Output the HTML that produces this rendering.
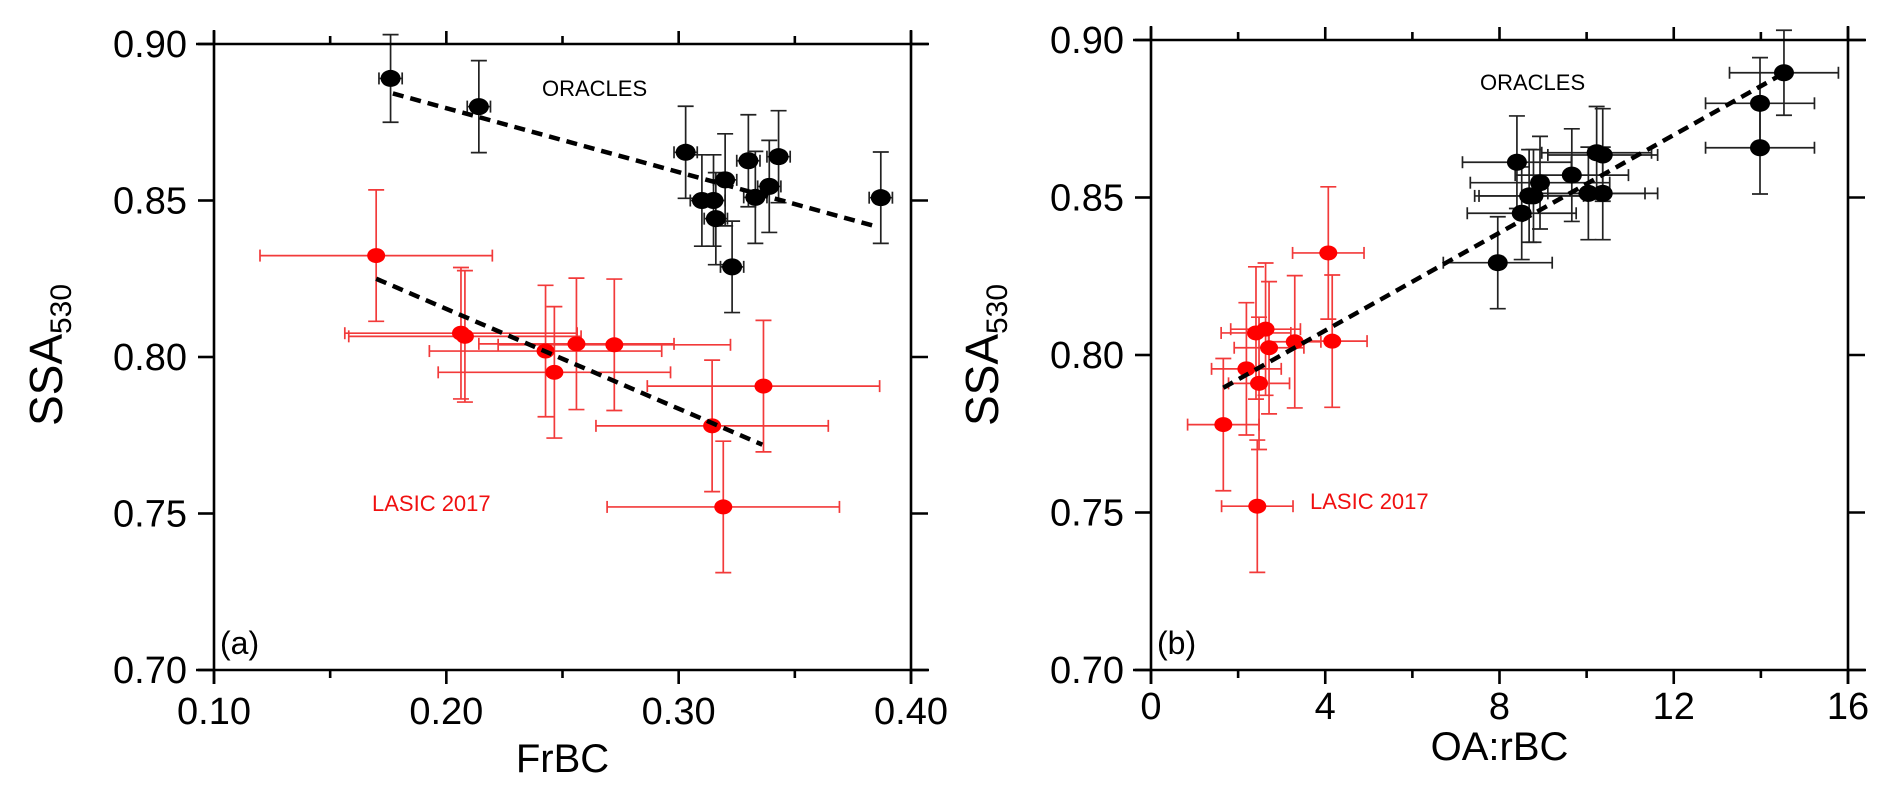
<!DOCTYPE html>
<html><head><meta charset="utf-8"><style>
html,body{margin:0;padding:0;background:#fff;}
svg{display:block;font-family:"Liberation Sans",Arial,sans-serif;}
</style></head><body>
<svg id="fig" width="1892" height="799" viewBox="0 0 1892 799">
<g id="pa"></g>
<g id="pb"></g>
</svg>
<script>
// Panel (a) data: FrBC vs SSA530
const aBlackX = [0.176,0.214,0.303,0.310,0.315,0.316,0.320,0.323,0.330,0.333,0.339,0.343,0.387];
const aBlackY = [0.889,0.880,0.8654,0.850,0.850,0.8442,0.8566,0.8288,0.8627,0.851,0.8545,0.864,0.8509];
const aBlackXerr = [0.005,0.005,0.005,0.005,0.005,0.005,0.005,0.005,0.005,0.005,0.005,0.005,0.005];
const aBlackYerr = [0.014,0.0147,0.0147,0.0146,0.0146,0.0147,0.0147,0.0146,0.0147,0.0147,0.0147,0.0147,0.0146];
const aRedX = [0.1698,0.2063,0.208,0.2427,0.2465,0.256,0.2723,0.3144,0.3365,0.3192];
const aRedY = [0.8324,0.8076,0.8066,0.8019,0.7951,0.8042,0.8039,0.778,0.7907,0.7521];
const aRedXerr = [0.05,0.05,0.05,0.05,0.05,0.042,0.05,0.05,0.05,0.05];
const aRedYerr = [0.021,0.021,0.021,0.021,0.021,0.021,0.021,0.021,0.021,0.021];
const aFitBlack = [[0.177,0.8842],[0.386,0.8415]];
const aFitRed = [[0.1698,0.825],[0.336,0.772]];
const aXTicks = [0.10,0.20,0.30,0.40];
const aXTickLabels = ["0.10","0.20","0.30","0.40"];
const aXMinor = [0.15,0.25,0.35];
const yTicks = [0.70,0.75,0.80,0.85,0.90];
const yTickLabels = ["0.70","0.75","0.80","0.85","0.90"];

// Panel (b) data: OA:rBC vs SSA530
const bBlackX = [14.53,13.98,13.98,7.96,8.40,8.51,8.68,8.78,8.93,9.66,10.04,10.23,10.37,10.37];
const bBlackY = [0.8896,0.8799,0.8658,0.8293,0.8612,0.845,0.8505,0.8505,0.8547,0.8571,0.8513,0.8642,0.8635,0.8513];
const bBlackXerr = [1.25,1.25,1.25,1.25,1.25,1.25,1.25,1.25,1.6,1.3,1.3,1.26,1.26,1.26];
const bBlackYerr = [0.0135,0.0145,0.0147,0.0146,0.0147,0.0147,0.0147,0.0147,0.0147,0.0147,0.0147,0.0147,0.0147,0.0147];
const bRedX = [4.07,4.16,3.30,2.71,2.63,2.41,2.19,2.48,1.66,2.44];
const bRedY = [0.8324,0.8044,0.8042,0.8023,0.8082,0.807,0.7956,0.791,0.7779,0.752];
const bRedXerr = [0.82,0.8,0.6,0.8,0.8,0.8,0.8,0.7,0.82,0.82];
const bRedYerr = [0.021,0.021,0.021,0.021,0.021,0.021,0.021,0.021,0.021,0.021];
const bFit = [[1.66,0.7896],[14.39,0.8884]];
const bXTicks = [0,4,8,12,16];
const bXTickLabels = ["0","4","8","12","16"];
const bXMinor = [2,6,10,14];

const NS = "http://www.w3.org/2000/svg";
function mk(parent, tag, attrs){
  const e = document.createElementNS(NS, tag);
  for (const k in attrs) e.setAttribute(k, attrs[k]);
  parent.appendChild(e);
  return e;
}
function scale(d0,d1,r0,r1){ return v => r0 + (v-d0)*(r1-r0)/(d1-d0); }

function drawPanel(g, cfg){
  const {L,R,T,B,xs,ys,xTicks,xLabels,xMinor,xTitle,xTitleY,xLabY,tag,oraX,oraY,lasX,lasY,titleX} = cfg;
  function series(xsA, ysA, xe, ye, color, barColor, rx, ry, name){
    for (let i=0;i<xsA.length;i++){
      const cx = xs(xsA[i]), cy = ys(ysA[i]);
      const x0 = xs(xsA[i]-xe[i]), x1 = xs(xsA[i]+xe[i]);
      const y0 = ys(ysA[i]+ye[i]), y1 = ys(ysA[i]-ye[i]);
      const eg = mk(g,'g',{stroke:barColor,'stroke-width':1.7,fill:'none'});
      
      
      mk(eg,'line',{x1:x0,y1:cy,x2:x1,y2:cy});
      mk(eg,'line',{x1:x0,y1:cy-6,x2:x0,y2:cy+6});
      mk(eg,'line',{x1:x1,y1:cy-6,x2:x1,y2:cy+6});
      mk(eg,'line',{x1:cx,y1:y0,x2:cx,y2:y1});
      mk(eg,'line',{x1:cx-8,y1:y0,x2:cx+8,y2:y0});
      mk(eg,'line',{x1:cx-8,y1:y1,x2:cx+8,y2:y1});
    }
    for (let i=0;i<xsA.length;i++){
      const p = mk(g,'ellipse',{cx:xs(xsA[i]),cy:ys(ysA[i]),rx:rx,ry:ry,fill:color});
      
      
    }
  }
  cfg.series.forEach(s => series(s.x,s.y,s.xe,s.ye,s.c,s.bc,s.rx,s.ry,s.n));
  cfg.fits.forEach(f => {
    const l = mk(g,'line',{x1:xs(f[0][0]),y1:ys(f[0][1]),x2:xs(f[1][0]),y2:ys(f[1][1]),stroke:'#000','stroke-width':4.5,'stroke-dasharray':'11 7'});
    
    
  });
  const ax = mk(g,'g',{stroke:'#000','stroke-width':2.6,fill:'none'});
  
  
  mk(ax,'line',{x1:L-18,y1:T,x2:R+18,y2:T});
  mk(ax,'line',{x1:L-18,y1:B,x2:R+18,y2:B});
  mk(ax,'line',{x1:L,y1:T-14,x2:L,y2:B+14});
  mk(ax,'line',{x1:R,y1:T-14,x2:R,y2:B+14});
  xTicks.forEach((v,i)=>{
    const x = xs(v);
    mk(ax,'line',{x1:x,y1:B,x2:x,y2:B+14});
    mk(ax,'line',{x1:x,y1:T,x2:x,y2:T-13});
    const t = mk(g,'text',{x:x,y:xLabY,'font-size':38,'text-anchor':'middle',fill:'#000'});
    t.textContent = xLabels[i];
    
    
  });
  xMinor.forEach(v=>{
    const x = xs(v);
    mk(ax,'line',{x1:x,y1:B,x2:x,y2:B+8});
    mk(ax,'line',{x1:x,y1:T,x2:x,y2:T-8});
  });
  yTicks.forEach((v,i)=>{
    const y = ys(v);
    mk(ax,'line',{x1:L-16,y1:y,x2:L,y2:y});
    mk(ax,'line',{x1:R,y1:y,x2:R+17,y2:y});
    const t = mk(g,'text',{x:L-27,y:y+13,'font-size':38,'text-anchor':'end',fill:'#000'});
    t.textContent = yTickLabels[i];
    
    
  });
  const xt = mk(g,'text',{x:(L+R)/2,y:xTitleY,'font-size':40,'text-anchor':'middle',fill:'#000'});
  xt.textContent = xTitle;
  
  
  const yt = mk(g,'text',{x:0,y:0,'font-size':46,'text-anchor':'middle',fill:'#000',transform:`translate(${titleX},355) rotate(-90)`});
  yt.innerHTML = 'SSA<tspan font-size="30" dy="9">530</tspan>';
  
  
  const pl = mk(g,'text',{x:L+6,y:B-16,'font-size':32,fill:'#000'});
  pl.textContent = tag;
  
  
  const o = mk(g,'text',{x:oraX,y:oraY,'font-size':22,fill:'#000'});
  o.textContent = 'ORACLES';
  
  
  const la = mk(g,'text',{x:lasX,y:lasY,'font-size':22,fill:'#f01010'});
  la.textContent = 'LASIC 2017';
  
  
}

drawPanel(document.getElementById('pa'), {
  L:214,R:911,T:44,B:670,
  xs: scale(0.10,0.40,214,911), ys: scale(0.70,0.90,670,44),
  xTicks:aXTicks,xLabels:aXTickLabels,xMinor:aXMinor,
  xTitle:'FrBC',xTitleY:772,xLabY:724,tag:'(a)',titleX:62,
  oraX:542,oraY:96,lasX:372,lasY:511,
  series:[
    {x:aRedX,y:aRedY,xe:aRedXerr,ye:aRedYerr,c:'#ff0000',bc:'#f23a3a',rx:9,ry:7.5,n:'lasic'},
    {x:aBlackX,y:aBlackY,xe:aBlackXerr,ye:aBlackYerr,c:'#000',bc:'#222',rx:10,ry:8.5,n:'oracles'}
  ],
  fits:[aFitBlack,aFitRed]
});
drawPanel(document.getElementById('pb'), {
  L:1151,R:1848,T:40,B:670,
  xs: scale(0,16,1151,1848), ys: scale(0.70,0.90,670,40),
  xTicks:bXTicks,xLabels:bXTickLabels,xMinor:bXMinor,
  xTitle:'OA:rBC',xTitleY:760,xLabY:719,tag:'(b)',titleX:998,
  oraX:1480,oraY:90,lasX:1310,lasY:509,
  series:[
    {x:bRedX,y:bRedY,xe:bRedXerr,ye:bRedYerr,c:'#ff0000',bc:'#f23a3a',rx:9,ry:7.5,n:'lasic'},
    {x:bBlackX,y:bBlackY,xe:bBlackXerr,ye:bBlackYerr,c:'#000',bc:'#222',rx:10,ry:8.5,n:'oracles'}
  ],
  fits:[bFit]
});
</script>
</body></html>
